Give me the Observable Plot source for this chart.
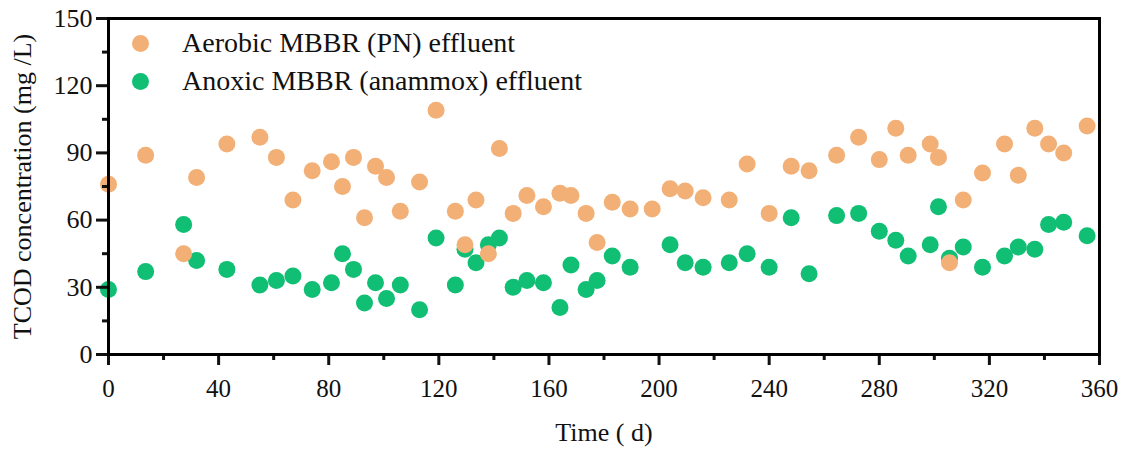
<!DOCTYPE html>
<html>
<head>
<meta charset="utf-8">
<script src="https://cdn.jsdelivr.net/npm/d3@7"></script>
<script src="https://cdn.jsdelivr.net/npm/@observablehq/plot@0.6"></script>
<style>
  html, body { margin: 0; padding: 0; background: #fff; }
  #wrap { position: relative; width: 1129px; height: 450px; font-family: "Liberation Serif", "Times New Roman", serif; }
  #wrap svg, #wrap svg text { font-family: "Liberation Serif", "Times New Roman", serif !important; }
  .leg { position: absolute; left: 0; top: 0; font-size: 28px; color: #111; }
  .leg .row { position: absolute; white-space: nowrap; line-height: 32px; }
  .leg .sw { position: absolute; width: 17px; height: 17px; border-radius: 50%; }
</style>
</head>
<body>
<div id="wrap"></div>
<script>
const days = [0,13.5,27.3,32,43,55,61,67,74,81,85,89,93,97,101,106,113,119,126,129.5,133.5,138,142,147,152,158,164,168,173.5,177.5,183,189.5,197.5,204,209.5,216,225.5,232,240,248,254.5,264.5,272.5,280,286,290.5,298.5,301.5,305.5,310.5,317.5,325.5,330.5,336.5,341.5,347,355.5];
const aerobic = [76,89,45,79,94,97,88,69,82,86,75,88,61,84,79,64,77,109,64,49,69,45,92,63,71,66,72,71,63,50,68,65,65,74,73,70,69,85,63,84,82,89,97,87,101,89,94,88,41,69,81,94,80,101,94,90,102];
const anoxic = [29,37,58,42,38,31,33,35,29,32,45,38,23,32,25,31,20,52,31,47,41,49,52,30,33,32,21,40,29,33,44,39,null,49,41,39,41,45,39,61,36,62,63,55,51,44,49,66,43,48,39,44,48,47,58,59,53];
const seriesNames = ["Aerobic MBBR (PN) effluent", "Anoxic MBBR (anammox) effluent"];
const seriesColors = ["#F2B077", "#10BE74"];
const xTicks = [0,40,80,120,160,200,240,280,320,360];
const xMinor = [20,60,100,140,180,220,260,300,340];
const yTicks = [0,30,60,90,120,150];
const yMinor = [15,45,75,105,135];

const aer = days.map((d, i) => ({day: d, v: aerobic[i]}));
const anx = days.map((d, i) => ({day: d, v: anoxic[i]})).filter(d => d.v != null);

const chart = Plot.plot({
  width: 1129,
  height: 450,
  marginLeft: 108,
  marginRight: 30,
  marginTop: 18,
  marginBottom: 96,
  style: {fontFamily: "'Liberation Serif', 'Times New Roman', serif", color: "#111", background: "#fff"},
  x: {domain: [0, 360]},
  y: {domain: [0, 150]},
  marks: [
    Plot.dot(anx, {x: "day", y: "v", r: 8.5, fill: seriesColors[1], stroke: "none"}),
    Plot.dot(aer, {x: "day", y: "v", r: 8.5, fill: seriesColors[0], stroke: "none"}),
    Plot.axisY({ticks: yTicks, tickSize: 12, tickPadding: 4, strokeWidth: 3, fontSize: 26, label: "TCOD concentration (mg /L)", labelAnchor: "center", labelArrow: "none", labelOffset: 96}),
    Plot.axisY({ticks: yMinor, tickSize: 6, strokeWidth: 3, text: null, label: null}),
    Plot.axisX({ticks: xTicks, tickSize: 11, tickPadding: 14, strokeWidth: 3, fontSize: 25, label: "Time ( d)", labelAnchor: "center", labelArrow: "none", labelOffset: 86}),
    Plot.axisX({ticks: xMinor, tickSize: 6, strokeWidth: 3, text: null, label: null}),
    Plot.frame({stroke: "#000", strokeWidth: 3})
  ]
});
const wrap = document.getElementById("wrap");
wrap.appendChild(chart);
chart.querySelectorAll('[aria-label="y-axis label"] text, [aria-label="x-axis label"] text').forEach(t => t.setAttribute("font-size", 26));

const leg = document.createElement("div");
leg.className = "leg";
const legY = [43, 81];
seriesNames.forEach((n, i) => {
  const sw = document.createElement("div");
  sw.className = "sw";
  sw.style.background = seriesColors[i];
  sw.style.left = (140 - 8.5) + "px";
  sw.style.top = (legY[i] - 8.5) + "px";
  leg.appendChild(sw);
  const r = document.createElement("div");
  r.className = "row";
  r.textContent = n;
  r.style.left = "182px";
  r.style.top = (legY[i] - 16) + "px";
  leg.appendChild(r);
});
wrap.appendChild(leg);
</script>
</body>
</html>
